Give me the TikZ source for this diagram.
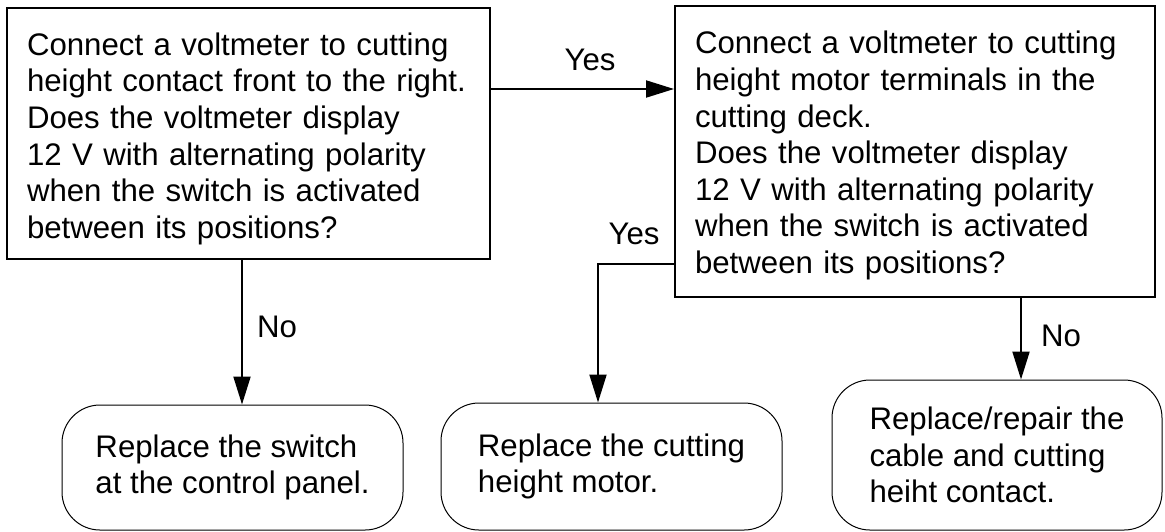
\documentclass[tikz,border=0pt]{standalone}
\usepackage{fontspec}
\setmainfont{Liberation Sans}
\usetikzlibrary{arrows.meta}

\newcommand{\flowfont}{\fontsize{15.6}{18.3}\selectfont}

\tikzset{
    question/.style={draw, line width=1pt, align=left, inner xsep=10pt,
        font=\flowfont},
    answer/.style={draw, line width=0.5pt, rounded corners=19pt, align=left,
        font=\flowfont},
    flow/.style={line width=1pt, -{Triangle[length=14pt, width=8.5pt]}},
    lbl/.style={font=\flowfont, inner sep=0pt}
}

\begin{document}
\begin{tikzpicture}[x=0.5pt, y=-0.5pt]

        \useasboundingbox (0,0) rectangle (1165,531);

        % Question boxes
        \node[question, text width=221.5pt, minimum height=125.5pt] (check1) at (248.5,133.5)
            {\rule{0pt}{16.5pt}Connect a voltmeter to cutting\\height contact front to the right.\\Does the voltmeter display\\12 V with alternating polarity\\when the switch is activated\\between its positions?};
        \node[question, text width=220pt, minimum height=145.5pt] (check2) at (915,151.5)
            {\rule{0pt}{15.5pt}Connect a voltmeter to cutting\\height motor terminals in the\\cutting deck.\\Does the voltmeter display\\12 V with alternating polarity\\when the switch is activated\\between its positions?};

        % Actions
        \node[answer, minimum width=170.5pt, minimum height=62.5pt] (switch) at (232.5,467.5)
            {Replace the switch\\at the control panel.};
        \node[answer, minimum width=170.5pt, minimum height=63.5pt] (motor) at (611.5,466.5)
            {Replace the cutting\\height motor.};
        \node[answer, minimum width=165pt, minimum height=75pt] (cable) at (997,455)
            {Replace/repair the\\cable and cutting\\heiht contact.};

        % Connectors
        \coordinate (yes1) at ([yshift=-41pt]check1.north east);
        \coordinate (yes2) at ([yshift=17pt]check2.south west);
        \coordinate (no1) at ([xshift=-3.25pt]check1.south);
        \coordinate (no2) at ([xshift=53pt]check2.south);

        \draw[flow] (yes1) -- (yes1 -| check2.west);
        \draw[flow] (yes2) -| ([xshift=-6.75pt]motor.north);
        \draw[flow] (no1) -- (no1 |- switch.north);
        \draw[flow] (no2) -- (no2 |- cable.north);

        % Labels
        \node[lbl] (yeslbl1) at (590,60) {Yes};
        \node[lbl] (yeslbl2) at (634,234) {Yes};
        \node[lbl] (nolbl1) at (277,327) {No};
        \node[lbl] (nolbl2) at (1061,336) {No};

    \end{tikzpicture}
\end{document}
